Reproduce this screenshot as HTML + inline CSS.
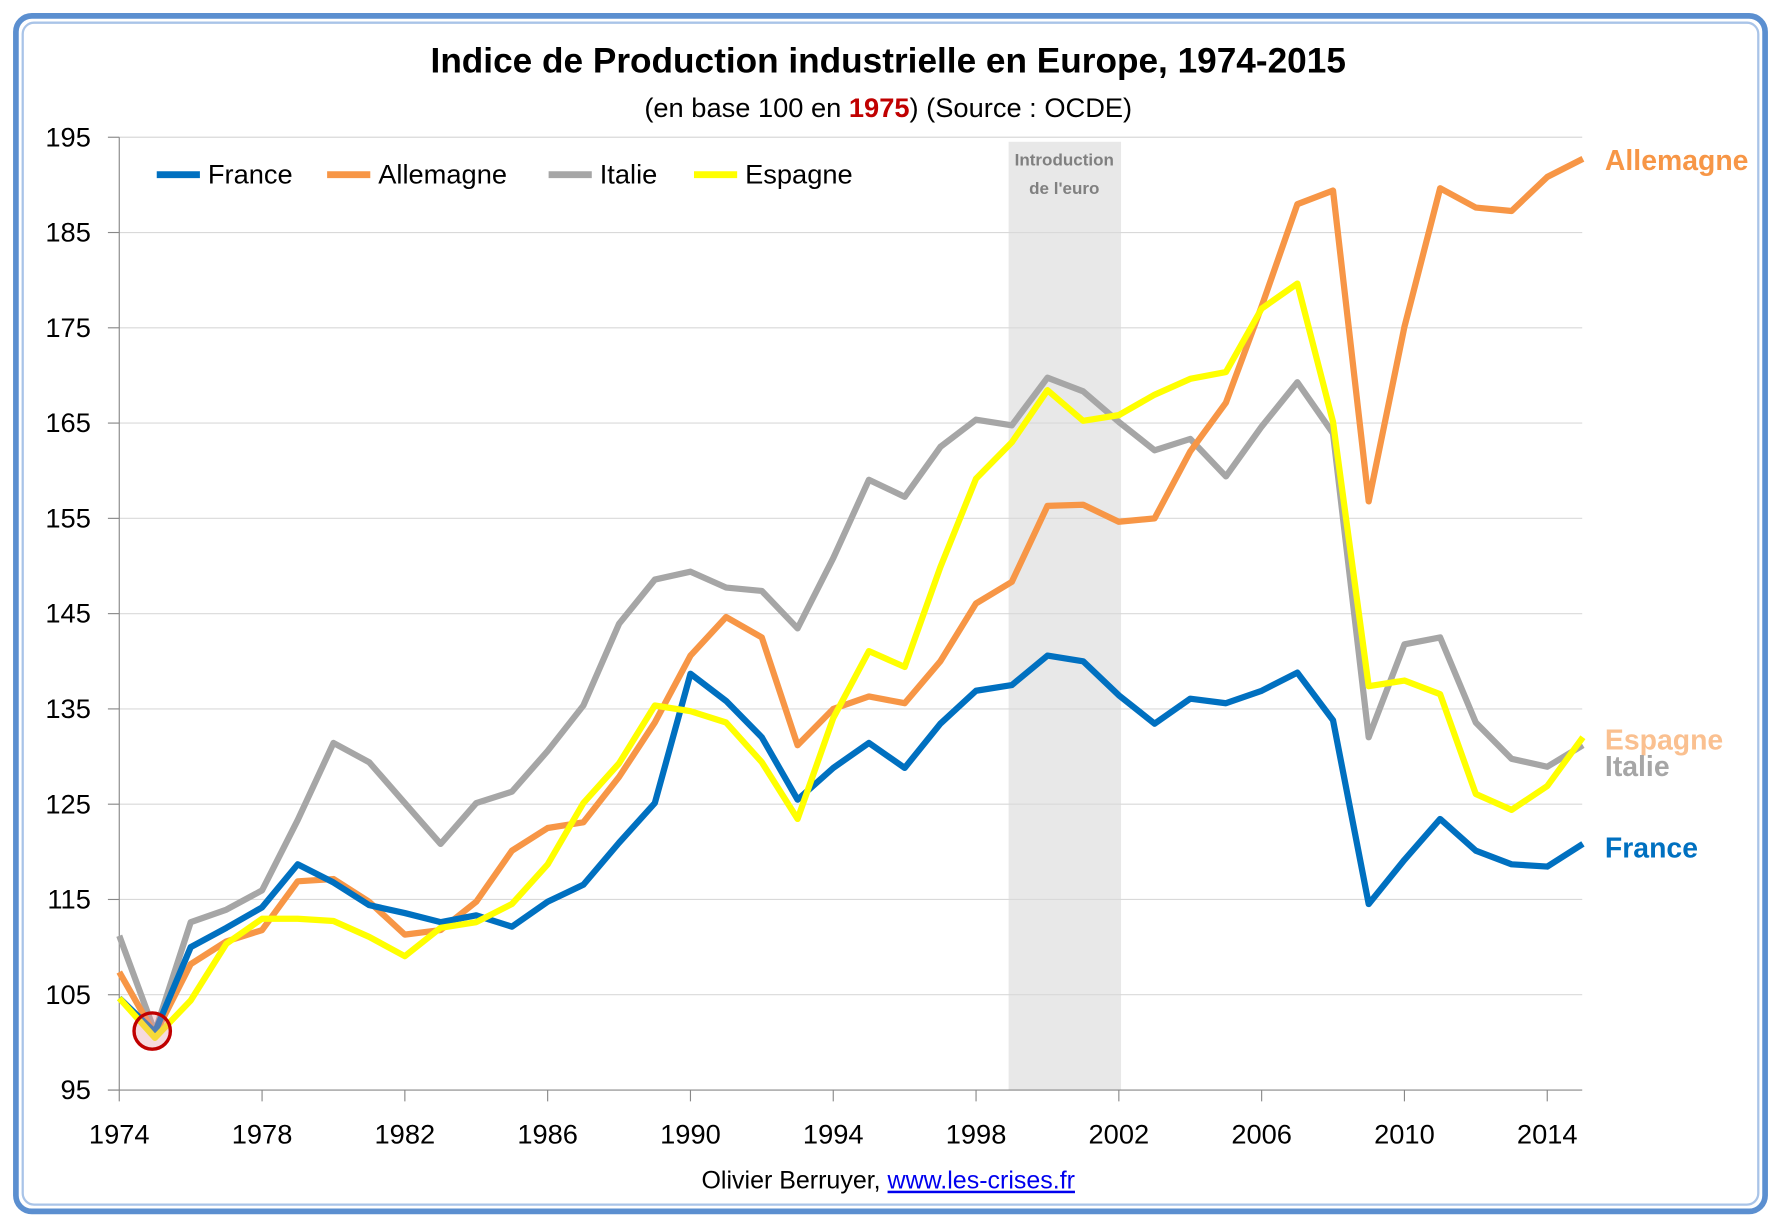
<!DOCTYPE html>
<html><head><meta charset="utf-8"><style>
html,body{margin:0;padding:0;background:#fff;width:1781px;height:1225px;overflow:hidden}
svg text{font-family:"Liberation Sans",sans-serif}
</style></head><body>
<svg id="s" width="1781" height="1225" viewBox="0 0 1568 1080" preserveAspectRatio="none" xmlns="http://www.w3.org/2000/svg">
<rect x="0" y="0" width="1568" height="1080" fill="#fff"/>
<rect x="14" y="14" width="1540" height="1054" rx="14" fill="none" stroke="#5b8fd0" stroke-width="5"/>
<rect x="20" y="20" width="1528" height="1042" rx="10" fill="none" stroke="#a9c4e8" stroke-width="2"/>
<rect x="888" y="125" width="99" height="836" fill="#e8e8e8"/>
<g id="grid" stroke="#d9d9d9" stroke-width="1"></g>
<line x1="105" y1="121" x2="105" y2="961" stroke="#888" stroke-width="1"/>
<line x1="95" y1="961" x2="1393" y2="961" stroke="#888" stroke-width="1"/>
<g id="labels" font-size="24" fill="#000"></g>
<text x="937" y="146" font-size="15" font-weight="bold" fill="#808080" text-anchor="middle">Introduction</text>
<text x="937" y="171" font-size="15" font-weight="bold" fill="#808080" text-anchor="middle">de l'euro</text>
<g id="lines" fill="none" stroke-width="5.5" stroke-linejoin="round"></g>
<circle cx="134" cy="909" r="16" fill="rgba(230,150,160,0.35)" stroke="#c00000" stroke-width="3"/>
<text x="782" y="64" font-size="31" font-weight="bold" text-anchor="middle">Indice de Production industrielle  en Europe, 1974-2015</text>
<text x="782" y="103" font-size="24" text-anchor="middle">(en base 100 en <tspan fill="#c00000" font-weight="bold">1975</tspan>) (Source : OCDE)</text>
<g font-size="24">
<line x1="138" y1="154" x2="176" y2="154" stroke="#0070c0" stroke-width="6"/><text x="183" y="162">France</text>
<line x1="288" y1="154" x2="326" y2="154" stroke="#f79646" stroke-width="6"/><text x="333" y="162">Allemagne</text>
<line x1="483" y1="154" x2="521" y2="154" stroke="#a6a6a6" stroke-width="6"/><text x="528" y="162">Italie</text>
<line x1="611" y1="154" x2="649" y2="154" stroke="#ffff00" stroke-width="6"/><text x="656" y="162">Espagne</text>
</g>
<g font-size="25" font-weight="bold">
<text x="1413" y="150" fill="#f79646">Allemagne</text>
<text x="1413" y="661" fill="#fac090">Espagne</text>
<text x="1413" y="684" fill="#a6a6a6">Italie</text>
<text x="1413" y="756" fill="#0070c0">France</text>
</g>
<text x="782" y="1048" font-size="22" text-anchor="middle">Olivier Berruyer, <tspan fill="#0000ee" text-decoration="underline">www.les-crises.fr</tspan></text>
</svg>
<script>
var NS="http://www.w3.org/2000/svg";
function el(p,t,a,txt){var e=document.createElementNS(NS,t);for(var k in a)e.setAttribute(k,a[k]);if(txt)e.textContent=txt;document.getElementById(p).appendChild(e);}
for(var v=95;v<=195;v+=10){var y=121+(195-v)*8.4;if(v>95)el("grid","line",{x1:105,y1:y,x2:1393,y2:y});el("grid","line",{x1:95,y1:y,x2:105,y2:y,stroke:"#888"});el("labels","text",{x:80,y:y+8,"text-anchor":"end"},String(v));}
var X=function(yr){return 105+31.43*(yr-1974)};
for(var yr=1974;yr<=2014;yr+=4){el("grid","line",{x1:X(yr),y1:961,x2:X(yr),y2:971,stroke:"#888"});el("labels","text",{x:X(yr),y:1008,"text-anchor":"middle"},String(yr));}
var D={
"#a6a6a6":[825,910,813,802,785,723,655,672,708,744,708,698,662,622,550,511,504,518,521,554,492,423,438,394,370,375,333,345,372,397,387,420,376,337,382,650,568,562,637,669,676,657],
"#f79646":[857,912,850,830,820,777,775,795,824,820,795,750,730,725,685,637,578,544,562,657,625,614,620,583,532,513,446,445,460,457,398,355,270,180,168,442,288,166,183,186,156,140],
"#0070c0":[880,910,835,818,800,762,778,798,805,813,807,817,795,780,743,708,594,618,650,705,677,655,677,638,609,604,578,583,613,638,616,620,609,593,635,797,758,722,750,762,764,744],
"#ffff00":[880,915,882,832,810,810,812,826,843,818,813,797,762,708,673,622,627,637,672,722,633,574,588,500,422,390,344,371,366,348,334,328,272,250,372,605,600,612,700,714,693,650]};
for(var c in D){var p=D[c].map(function(y,i){return X(1974+i).toFixed(1)+","+y}).join(" ");el("lines","polyline",{points:p,stroke:c});}
</script>
</body></html>
